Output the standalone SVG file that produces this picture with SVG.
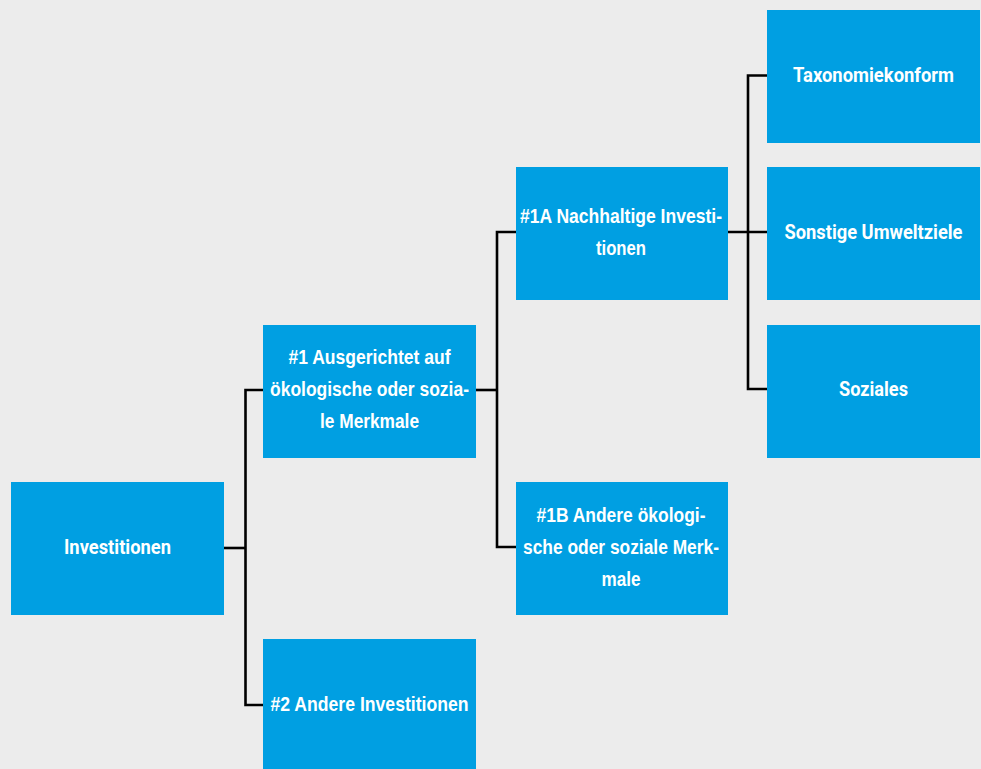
<svg xmlns="http://www.w3.org/2000/svg" width="981" height="769" viewBox="0 0 981 769">
<style>
.bg{fill:#ececec}
.box{fill:#009fe2}
.t{fill:#ffffff;font-family:"Liberation Sans",Arial,sans-serif;font-weight:bold;font-size:20.5px;text-anchor:middle}
.r{font-family:Roboto,"Liberation Sans",sans-serif}
.c{fill:none;stroke:#000000;stroke-width:2.6}
</style>
<rect class="bg" x="0" y="0" width="981" height="769"/>
<g id="connectors">
<path class="c" d="M224,548 H245.5"/>
<path class="c" d="M263,390 H245.5 V705 H263"/>
<path class="c" d="M476,390 H497"/>
<path class="c" d="M516,232 H497 V547 H516"/>
<path class="c" d="M728,232 H767"/>
<path class="c" d="M767,75.5 H748 V389 H767"/>
</g>
<g id="investitionen">
<rect class="box" x="11" y="482" width="213" height="133"/>
<text class="t r" x="117.5" y="554" textLength="107" lengthAdjust="spacingAndGlyphs">Investitionen</text>
</g>
<g id="n1">
<rect class="box" x="263" y="325" width="213" height="133"/>
<text class="t" x="369.5" y="363.5" textLength="162" lengthAdjust="spacingAndGlyphs">#1 Ausgerichtet auf</text>
<text class="t" x="369.5" y="395.5" textLength="199" lengthAdjust="spacingAndGlyphs">ökologische oder sozia-</text>
<text class="t" x="369.5" y="427.5" textLength="99" lengthAdjust="spacingAndGlyphs">le Merkmale</text>
</g>
<g id="n2">
<rect class="box" x="263" y="639" width="213" height="140"/>
<text class="t" x="369.5" y="710.5" textLength="198" lengthAdjust="spacingAndGlyphs">#2 Andere Investitionen</text>
</g>
<g id="n1a">
<rect class="box" x="516" y="167" width="212" height="133"/>
<text class="t" x="621" y="223" textLength="202" lengthAdjust="spacingAndGlyphs">#1A Nachhaltige Investi-</text>
<text class="t" x="621" y="255" textLength="50" lengthAdjust="spacingAndGlyphs">tionen</text>
</g>
<g id="n1b">
<rect class="box" x="516" y="482" width="212" height="133"/>
<text class="t" x="621" y="521.5" textLength="169" lengthAdjust="spacingAndGlyphs">#1B Andere ökologi-</text>
<text class="t" x="621" y="553.5" textLength="196" lengthAdjust="spacingAndGlyphs">sche oder soziale Merk-</text>
<text class="t" x="621" y="585.5" textLength="39" lengthAdjust="spacingAndGlyphs">male</text>
</g>
<g id="taxonomiekonform">
<rect class="box" x="767" y="10" width="213" height="133"/>
<text class="t r" x="873.5" y="82" textLength="161" lengthAdjust="spacingAndGlyphs">Taxonomiekonform</text>
</g>
<g id="sonstige">
<rect class="box" x="767" y="167" width="213" height="133"/>
<text class="t r" x="873.5" y="239" textLength="178" lengthAdjust="spacingAndGlyphs">Sonstige Umweltziele</text>
</g>
<g id="soziales">
<rect class="box" x="767" y="325" width="213" height="133"/>
<text class="t r" x="873.5" y="396" textLength="69" lengthAdjust="spacingAndGlyphs">Soziales</text>
</g>
</svg>
